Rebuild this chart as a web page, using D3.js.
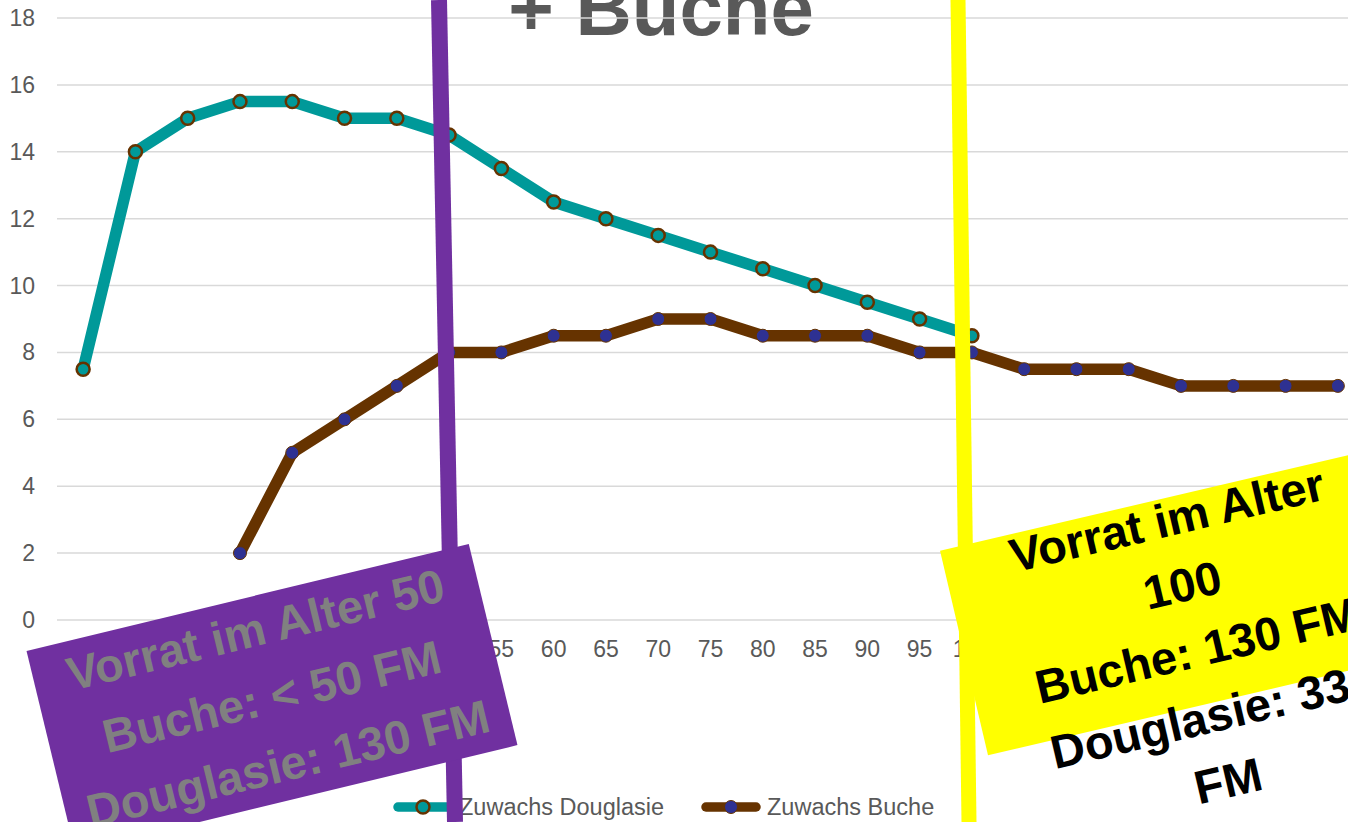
<!DOCTYPE html>
<html>
<head>
<meta charset="utf-8">
<script src="https://cdn.jsdelivr.net/npm/d3@7"></script>
<style>
  body { margin: 0; background: #fff; overflow: hidden; }
  text { font-family: "Liberation Sans", Arial, sans-serif; }
</style>
</head>
<body>
<svg id="chart"></svg>
<script>
// ages (x categories)
const ages = [15, 20, 25, 30, 35, 40, 45, 50, 55, 60, 65, 70, 75, 80, 85, 90, 95, 100,
              105, 110, 115, 120, 125, 130, 135];
const douglasie = [7.5, 14, 15, 15.5, 15.5, 15, 15, 14.5, 13.5, 12.5, 12, 11.5, 11, 10.5, 10, 9.5, 9, 8.5,
                   null, null, null, null, null, null, null];
const buche = [null, null, null, 2, 5, 6, 7, 8, 8, 8.5, 8.5, 9, 9, 8.5, 8.5, 8.5, 8, 8,
               7.5, 7.5, 7.5, 7, 7, 7, 7];
const yTicks = [0, 2, 4, 6, 8, 10, 12, 14, 16, 18];
const seriesNames = ["Zuwachs Douglasie", "Zuwachs Buche"];
const purpleText = ["Vorrat im Alter 50", "Buche: < 50 FM", "Douglasie: 130 FM"];
const yellowText = ["Vorrat im Alter", "100", "Buche: 130 FM", "Douglasie: 330", "FM"];

const W = 1348, H = 822;
const margin = { top: 18, left: 57 };
const plotRight = 1364, plotBottom = 620;

const svg = d3.select("#chart").attr("width", W).attr("height", H);

const x = d3.scaleBand().domain(ages).range([margin.left, plotRight]);
const y = d3.scaleLinear().domain([0, 18]).range([plotBottom, margin.top]);
const cx = d => x(d) + x.bandwidth() / 2;

// title (partly cut at top)
svg.append("text")
    .attr("x", 661).attr("y", 35)
    .attr("text-anchor", "middle")
    .attr("font-size", 78).attr("font-weight", "bold")
    .attr("fill", "#595959")
    .text("+ Buche");

// gridlines
svg.append("g").selectAll("line")
  .data(yTicks)
  .join("line")
    .attr("x1", margin.left).attr("x2", plotRight)
    .attr("y1", d => y(d)).attr("y2", d => y(d))
    .attr("stroke", "#d9d9d9").attr("stroke-width", 1.5);

// y axis labels
svg.append("g").selectAll("text")
  .data(yTicks)
  .join("text")
    .attr("x", 35).attr("y", d => y(d))
    .attr("dy", "0.35em")
    .attr("text-anchor", "end")
    .attr("font-size", 23).attr("fill", "#595959")
    .text(d => d);

// x axis labels
svg.append("g").selectAll("text")
  .data(ages)
  .join("text")
    .attr("x", d => cx(d)).attr("y", 649)
    .attr("dy", "0.35em")
    .attr("text-anchor", "middle")
    .attr("font-size", 23).attr("fill", "#595959")
    .text(d => d);

const series = [
  { name: seriesNames[0], values: douglasie, line: "#009999", fill: "#009999", stroke: "#663300", sw: 2.5 },
  { name: seriesNames[1], values: buche, line: "#663300", fill: "#2e3192", stroke: "#663300", sw: 1 }
];

const line = d3.line()
    .defined(d => d.v != null)
    .x(d => cx(d.age))
    .y(d => y(d.v));

series.forEach(s => {
  const pts = ages.map((a, i) => ({ age: a, v: s.values[i] }));
  svg.append("path")
      .datum(pts)
      .attr("fill", "none")
      .attr("stroke", s.line)
      .attr("stroke-width", 11.5)
      .attr("stroke-linejoin", "round")
      .attr("d", line);
  svg.append("g").selectAll("circle")
    .data(pts.filter(d => d.v != null))
    .join("circle")
      .attr("cx", d => cx(d.age)).attr("cy", d => y(d.v))
      .attr("r", 6.5)
      .attr("fill", s.fill)
      .attr("stroke", s.stroke).attr("stroke-width", s.sw);
});

// legend
const legendX = [393, 701];
const legend = svg.append("g").selectAll("g")
  .data(series)
  .join("g")
    .attr("transform", (d, i) => `translate(${legendX[i]},807)`);
legend.append("line")
    .attr("x1", 5).attr("x2", 55)
    .attr("stroke", d => d.line).attr("stroke-width", 9.5)
    .attr("stroke-linecap", "round");
legend.append("circle")
    .attr("cx", 30).attr("r", 6.5)
    .attr("fill", d => d.fill)
    .attr("stroke", d => d.stroke).attr("stroke-width", d => d.sw);
legend.append("text")
    .attr("x", 66).attr("dy", "0.35em")
    .attr("font-size", 23.5).attr("fill", "#595959")
    .text(d => d.name);

// purple marker line + label box
svg.append("line")
    .attr("x1", 439).attr("y1", 0).attr("x2", 455).attr("y2", H)
    .attr("stroke", "#7030a0").attr("stroke-width", 16);

const pBox = svg.append("g").attr("transform", "translate(272,698) rotate(-13.6)");
pBox.append("rect")
    .attr("x", -227.5).attr("y", -103.5)
    .attr("width", 455).attr("height", 207)
    .attr("fill", "#7030a0");
pBox.selectAll("text")
  .data(purpleText)
  .join("text")
    .attr("x", 0).attr("y", (d, i) => -70 + i * 69 + 16)
    .attr("text-anchor", "middle")
    .attr("font-size", 47).attr("font-weight", "bold")
    .attr("fill", "#808080")
    .text(d => d);

// yellow marker line + label box
svg.append("line")
    .attr("x1", 958).attr("y1", 0).attr("x2", 969).attr("y2", H)
    .attr("stroke", "#ffff00").attr("stroke-width", 15);

const yBox = svg.append("g").attr("transform", "translate(1186,601) rotate(-13.2)");
yBox.append("rect")
    .attr("x", -228).attr("y", -105)
    .attr("width", 456).attr("height", 210)
    .attr("fill", "#ffff00");
yBox.selectAll("text")
  .data(yellowText)
  .join("text")
    .attr("x", 0).attr("y", (d, i) => -67 + i * 67)
    .attr("text-anchor", "middle")
    .attr("font-size", 47).attr("font-weight", "bold")
    .attr("fill", "#000")
    .text(d => d);
</script>
</body>
</html>
